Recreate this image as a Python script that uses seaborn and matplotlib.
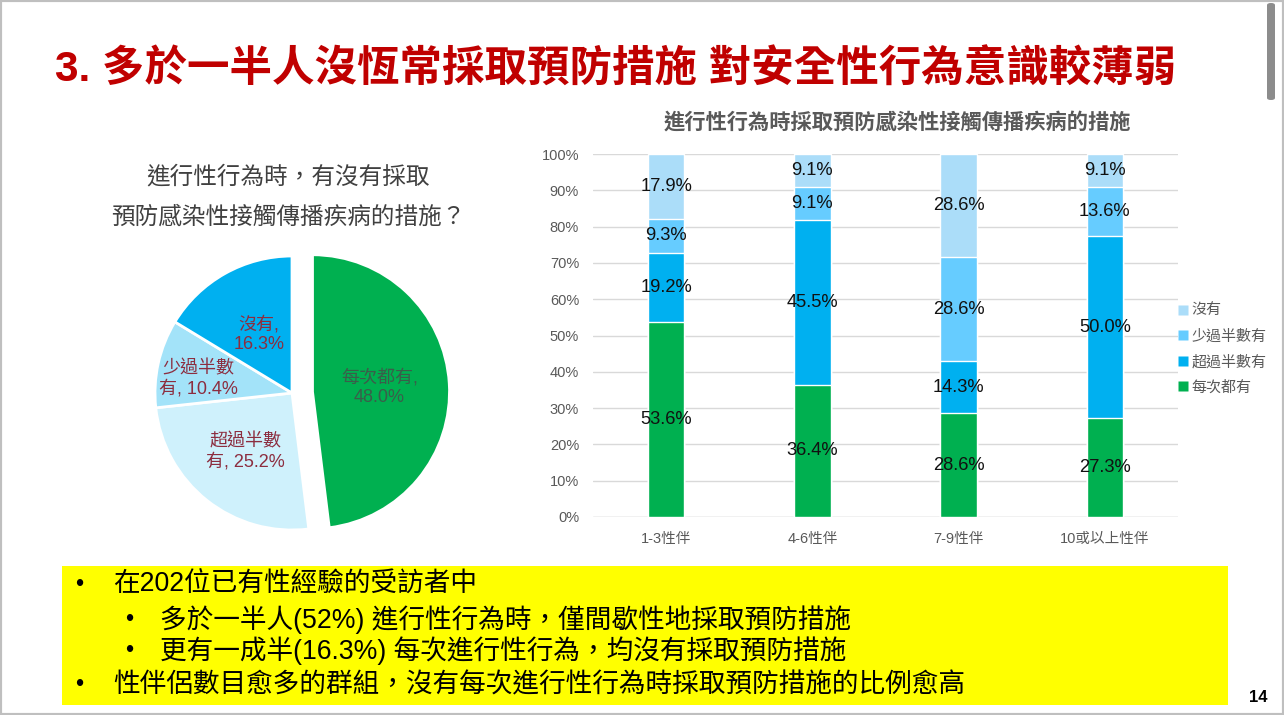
import numpy as np
import pandas as pd
import matplotlib
matplotlib.use("Agg")
import matplotlib.pyplot as plt
from matplotlib.patches import Rectangle, FancyBboxPatch
from matplotlib.lines import Line2D
import seaborn as sns

# ---------------- data ----------------
page_title = "3. 多於一半人沒恆常採取預防措施 對安全性行為意識較薄弱"
pie_title = "進行性行為時，有沒有採取\n預防感染性接觸傳播疾病的措施？"
pie_labels = ["每次都有", "超過半數有", "少過半數有", "沒有"]
pie_label_text = ["每次都有,\n48.0%", "超過半數\n有, 25.2%", "少過半數\n有, 10.4%", "沒有,\n16.3%"]
pie_values = [48.0, 25.2, 10.4, 16.3]

bar_title = "進行性行為時採取預防感染性接觸傳播疾病的措施"
groups = ["1-3性伴", "4-6性伴", "7-9性伴", "10或以上性伴"]
series = ["每次都有", "超過半數有", "少過半數有", "沒有"]
every_time = [53.6, 36.4, 28.6, 27.3]
over_half = [19.2, 45.5, 14.3, 50.0]
under_half = [9.3, 9.1, 28.6, 13.6]
never = [17.9, 9.1, 28.6, 9.1]
yticks = [0, 10, 20, 30, 40, 50, 60, 70, 80, 90, 100]

notes = [
    (0, "在202位已有性經驗的受訪者中"),
    (1, "多於一半人(52%) 進行性行為時，僅間歇性地採取預防措施"),
    (1, "更有一成半(16.3%) 每次進行性行為，均沒有採取預防措施"),
    (0, "性伴侶數目愈多的群組，沒有每次進行性行為時採取預防措施的比例愈高"),
]
page_no = "14"

# ---------------- style ----------------
sns.set_theme(style="white")
plt.rcParams["font.family"] = ["Liberation Sans", "Noto Sans CJK TC", "DejaVu Sans"]

W, H = 1284, 715
fig = plt.figure(figsize=(W / 100, H / 100), dpi=100)
fig.patch.set_facecolor("white")

def fx(px):
    return px / W

def fy(py):
    return 1 - py / H

# frame + scrollbar decoration
fig.add_artist(Rectangle((0, 0), 1, 1, transform=fig.transFigure, fill=False,
                         edgecolor="#BFBFBF", linewidth=3))
fig.add_artist(FancyBboxPatch((fx(1267), fy(100)), fx(8), 97 / H,
                              boxstyle="round,pad=0,rounding_size=0.003",
                              transform=fig.transFigure, facecolor="#8C8C8C",
                              edgecolor="none"))

# page title
fig.text(fx(55), fy(70), page_title, ha="left", va="center", fontsize=30.6,
         fontweight="bold", color="#C00000")

# ---------------- pie ----------------
pie_colors = ["#00B050", "#CFF1FC", "#A3E3F9", "#00B0F0"]
cx, cy, r = 292, 393, 137
scale = 1.3
axp = fig.add_axes([fx(cx - r * scale), fy(cy + r * scale), 2 * r * scale / W, 2 * r * scale / H])
wedges, _ = axp.pie(pie_values, colors=pie_colors, startangle=90, counterclock=False,
                    explode=[0.15, 0, 0, 0],
                    wedgeprops=dict(edgecolor="white", linewidth=2))
axp.set_xlim(-scale, scale)
axp.set_ylim(-scale, scale)
axp.set_aspect("equal")
axp.axis("off")
label_dist = [0.49, 0.55, 0.70, 0.49]
label_col = ["#3A5E4A", "#8C2D3F", "#8C2D3F", "#8C2D3F"]
label_dy = [0.0, 0.0, -0.05, 0.0]
for w, txt, d, c, dy in zip(wedges, pie_label_text, label_dist, label_col, label_dy):
    th = np.deg2rad((w.theta1 + w.theta2) / 2)
    x0, y0 = w.center
    axp.text(x0 + d * np.cos(th), y0 + d * np.sin(th) + dy, txt, ha="center", va="center",
             fontsize=13, color=c, linespacing=1.2)

fig.text(fx(288), fy(197), pie_title, ha="center", va="center", fontsize=17,
         color="#404040", linespacing=2.0)

# ---------------- stacked bars ----------------
df = pd.DataFrame({"group": groups, "每次都有": every_time, "超過半數有": over_half,
                   "少過半數有": under_half, "沒有": never})
bar_colors = {"每次都有": "#00B050", "超過半數有": "#00B0F0",
              "少過半數有": "#66CCFF", "沒有": "#ABDDF9"}
cum = df[series].cumsum(axis=1)

axb = fig.add_axes([fx(593), fy(517), (1178 - 593) / W, (517 - 154) / H])
for s in reversed(series):
    sns.barplot(data=cum.assign(group=groups), x="group", y=s, order=groups,
                color=bar_colors[s], saturation=1, width=0.25, ax=axb, zorder=3)
axb.set_ylim(0, 100)
axb.set_xlim(-0.5, 3.5)
axb.set_yticks(yticks)
axb.set_yticklabels([f"{t}%" for t in yticks], fontsize=10.5, color="#595959")
axb.tick_params(axis="x", labelsize=10.5, labelcolor="#595959", pad=11, length=0)
axb.tick_params(axis="y", length=0, pad=10)
axb.set_xlabel("")
axb.set_ylabel("")
axb.grid(axis="y", color="#D9D9D9", linewidth=1, zorder=0)
axb.grid(axis="x", visible=False)
for sp in axb.spines.values():
    sp.set_visible(False)
axb.axhline(0, color="#D9D9D9", linewidth=1, zorder=2)

for i in range(len(groups)):
    prev = 0.0
    for s in series:
        v = df[s].iloc[i]
        axb.text(i, prev + v / 2, f"{v:.1f}%", ha="center", va="center",
                 fontsize=13.2, color="#111111", zorder=5)
        prev += v

fig.text(fx(897), fy(122), bar_title, ha="center", va="center", fontsize=15.3,
         fontweight="bold", color="#595959")

handles = [Line2D([0], [0], marker="s", linestyle="none", markersize=7,
                  markerfacecolor=bar_colors[s], markeredgecolor="none", label=s)
           for s in reversed(series)]
leg = axb.legend(handles=handles, loc="center left", bbox_to_anchor=(0.985, 0.462),
                 frameon=False, fontsize=10.8, handletextpad=0.1, labelspacing=0.75,
                 handlelength=1.0, borderaxespad=0)
for t in leg.get_texts():
    t.set_color("#595959")

# ---------------- notes box ----------------
fig.add_artist(Rectangle((fx(62), fy(705)), (1228 - 62) / W, (705 - 566) / H,
                         transform=fig.transFigure, facecolor="#FFFF00",
                         edgecolor="none"))
ys = [585, 620, 651, 685]
for (lvl, txt), yy in zip(notes, ys):
    bx = 75 if lvl == 0 else 125
    tx = 113 if lvl == 0 else 160
    fig.text(fx(bx), fy(yy), "•", ha="left", va="center", fontsize=17, color="black")
    fig.text(fx(tx), fy(yy), txt, ha="left", va="center", fontsize=19.2, color="black")

fig.text(fx(1258), fy(697), page_no, ha="center", va="center", fontsize=12,
         fontweight="bold", color="black")

fig.savefig("out.png", dpi=100, facecolor="white")
